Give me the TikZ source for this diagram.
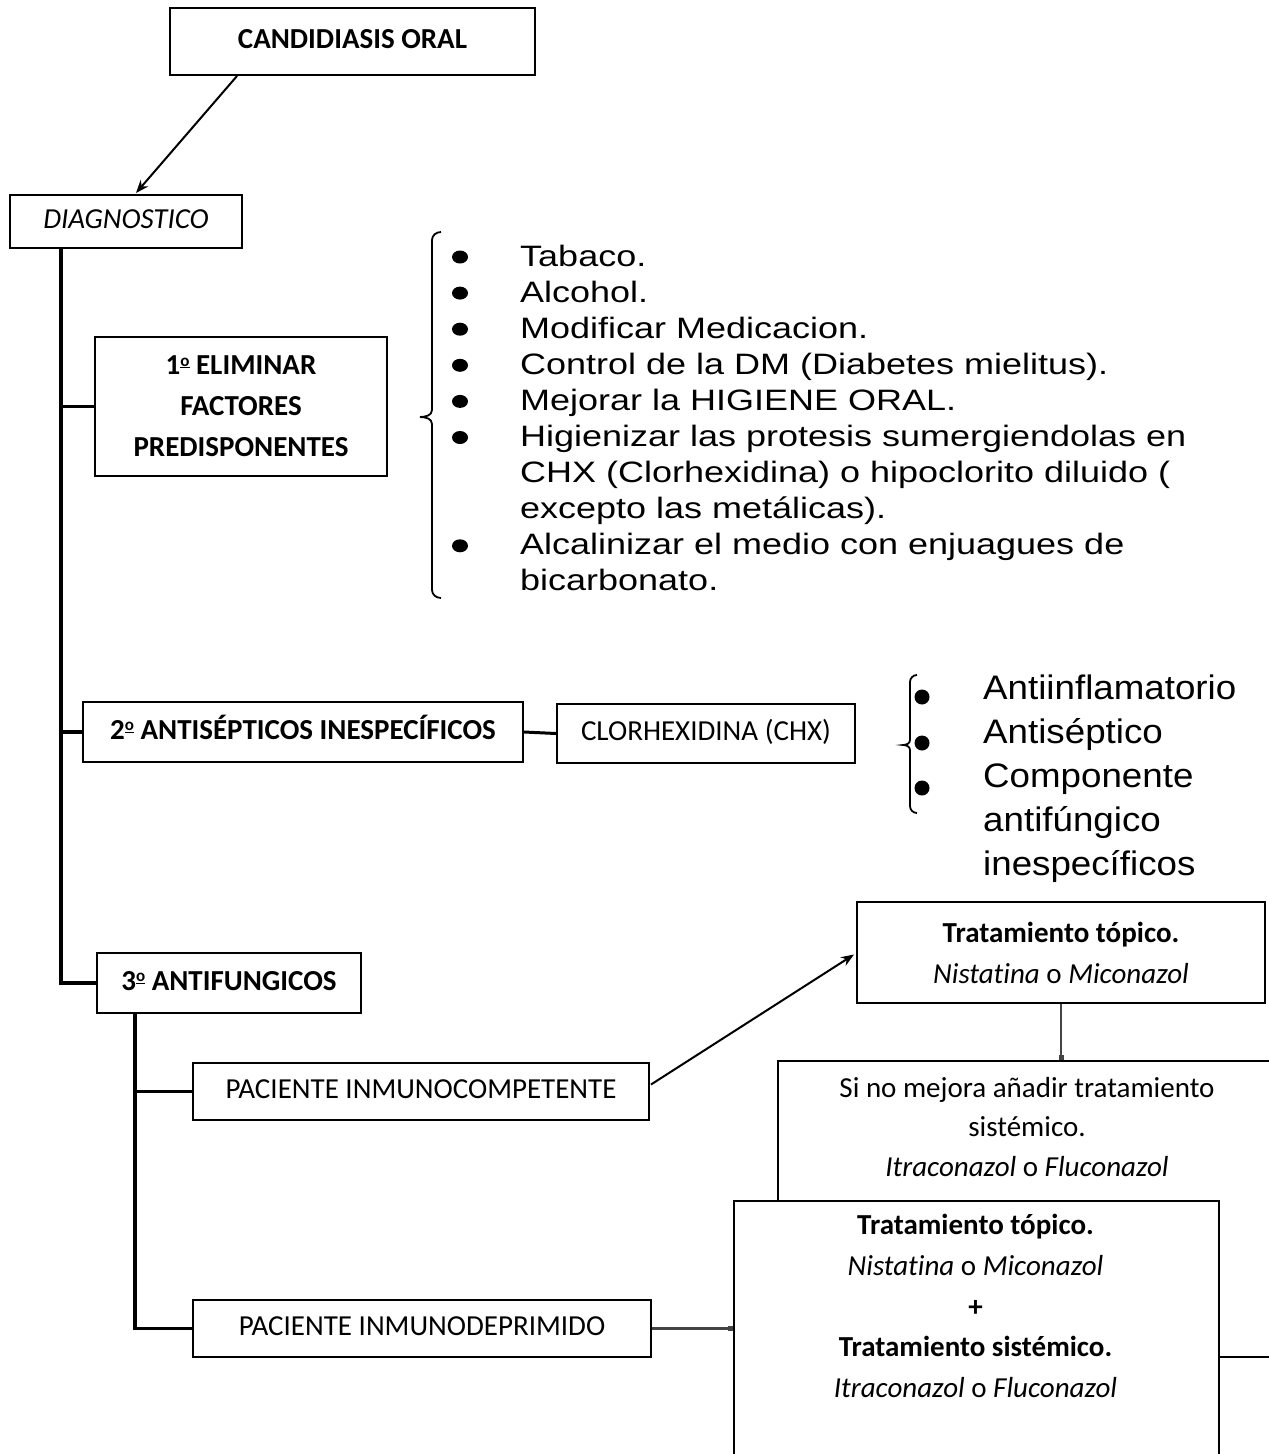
\documentclass[tikz,border=0pt]{standalone}
\usepackage{fontspec}
\setmainfont{Carlito}[Ligatures=NoCommon]
\newfontfamily\listAfont[FakeStretch=1.22]{Liberation Sans}
\newfontfamily\listBfont[FakeStretch=1.08]{Liberation Sans}
\usetikzlibrary{arrows.meta,calc}
\definecolor{conn}{HTML}{444444}
\newcommand{\ordmasc}{\raisebox{.62ex}{\fontsize{17}{17}\selectfont\underline{o}}}
\begin{document}
\begin{tikzpicture}[x=1pt,y=-1pt,
  box/.style={draw, line width=2, inner sep=0, text height=20, text depth=6, font=\fontsize{29}{41}\selectfont},
  mbox/.style={draw, line width=2, inner sep=0, align=center, font=\fontsize{29}{41}\selectfont},
  txt/.style={inner sep=0, align=center, font=\fontsize{29}{41}\selectfont},
  trunk/.style={line width=3.5},
  arr/.style={line width=2, -{Stealth[length=13pt, width=10pt]}},
  gconn/.style={line width=2.5, draw=conn, -{Square[length=5pt, width=5pt]}},
  lA/.style={inner sep=0, anchor=base west, font=\listAfont\fontsize{29.5}{36}\selectfont},
  lB/.style={inner sep=0, anchor=base west, font=\listBfont\fontsize{34}{44}\selectfont},
  bracestyle/.style={line width=1.8}
]
\useasboundingbox (0,0) rectangle (1269,1454);
\fill[white] (0,0) rectangle (1269,1454);
\clip (0,0) rectangle (1269,1454);

% boxes
\node[box, minimum width=365, minimum height=67] (cand) at (352.5,41.5) {\bfseries CANDIDIASIS ORAL};
\node[box, minimum width=232, minimum height=53] (diag) at (126,221.5) {\itshape DIAGNOSTICO};
\node[mbox, minimum width=292, minimum height=139, font=\fontsize{29}{41}\selectfont\bfseries] (elim) at (241,406.5) {1\ordmasc{} ELIMINAR\\FACTORES\\PREDISPONENTES};
\node[box, minimum width=440, minimum height=60] (anti) at (303,732) {\bfseries 2\ordmasc{} ANTISÉPTICOS INESPECÍFICOS};
\node[box, minimum width=298, minimum height=59] (chx) at (706,733.5) {CLORHEXIDINA (CHX)};
\node[box, minimum width=264, minimum height=60] (fung) at (229,983) {\bfseries 3\ordmasc{} ANTIFUNGICOS};
\node[box, minimum width=456, minimum height=57] (comp) at (421,1091.5) {PACIENTE INMUNOCOMPETENTE};
\node[box, minimum width=458, minimum height=57] (depr) at (422,1328.5) {PACIENTE INMUNODEPRIMIDO};
\node[mbox, minimum width=408, minimum height=101] (topo) at (1061,952.5) {\textbf{Tratamiento tópico.}\\\textit{Nistatina} o \textit{Miconazol}};

% partially hidden box behind the combined treatment box
\node[draw, line width=2, inner sep=0, minimum width=498, minimum height=296] (sino) at (1027,1209) {};
\node[txt, font=\fontsize{29}{39.5}\selectfont] (sinotxt) at (1027,1127) {Si no mejora añadir tratamiento\\sistémico.\\\textit{Itraconazol} o \textit{Fluconazol}};

\node[draw, fill=white, line width=2, inner sep=0, minimum width=485, minimum height=280, anchor=north west] (both) at (733,1200) {};
\node[txt, font=\fontsize{29}{40.75}\selectfont] (bothtxt) at (975.5,1306) {\textbf{Tratamiento tópico.}\\\textit{Nistatina} o \textit{Miconazol}\\\textbf{+}\\\textbf{Tratamiento sistémico.}\\\textit{Itraconazol} o \textit{Fluconazol}};

% trunk lines
\coordinate (tr) at (61,0);
\coordinate (sb) at (135,0);
\draw[trunk] (tr |- diag.south) -- (tr |- fung.west) -- (fung.west);
\draw[trunk] (tr |- elim.west) -- (elim.west);
\draw[trunk] (tr |- anti.west) -- (anti.west);
\draw[trunk] (sb |- fung.south) -- (sb |- depr.west) -- (depr.west);
\draw[trunk] (sb |- comp.west) -- (comp.west);
\draw[line width=3] (anti.east) -- (chx.west);

% arrows
\draw[arr] ($(cand.south west)+(68,0)$) -- ($(diag.north west)+(127,-1)$);
\draw[arr] ($(comp.east)+(1,-7)$) -- ($(topo.west)+(-2,2)$);
\draw[gconn] (topo.south) -- (topo.south |- sino.north);
\draw[gconn] (depr.east) -- (depr.east -| both.west);

% list 1
\draw[bracestyle] (441,232) to[out=180,in=90] (432,240) -- (432,410) to[out=-90,in=0] (420,417)
  to[out=0,in=90] (432,424) -- (432,590) to[out=-90,in=180] (441,598);
\foreach \i in {0,1,2,3,4,5,8} \fill (460,{257+36.1*\i}) ellipse [x radius=8, y radius=6.5];
\foreach \t [count=\i from 0] in {{Tabaco.},{Alcohol.},{Modificar Medicacion.},{Control de la DM (Diabetes mielitus).},{Mejorar la HIGIENE ORAL.},{Higienizar las protesis sumergiendolas en},{CHX (Clorhexidina) o hipoclorito diluido (},{excepto las metálicas).},{Alcalinizar el medio con enjuagues de},{bicarbonato.}}
  \node[lA] (la\i) at (520,{266+36.1*\i}) {\t};

% list 2
\draw[bracestyle] (917,675) to[out=180,in=90] (910,682) -- (910,740) to[out=-90,in=0] (903,745)
  to[out=0,in=90] (910,750) -- (910,806) to[out=-90,in=180] (917,813);
\foreach \y in {697,743,788} \fill (922,\y) circle [radius=7.5];
\foreach \t [count=\i from 0] in {{Antiinflamatorio},{Antiséptico},{Componente},{antifúngico},{inespecíficos}}
  \node[lB] (lb\i) at (983,{699+44*\i}) {\t};
\end{tikzpicture}
\end{document}
